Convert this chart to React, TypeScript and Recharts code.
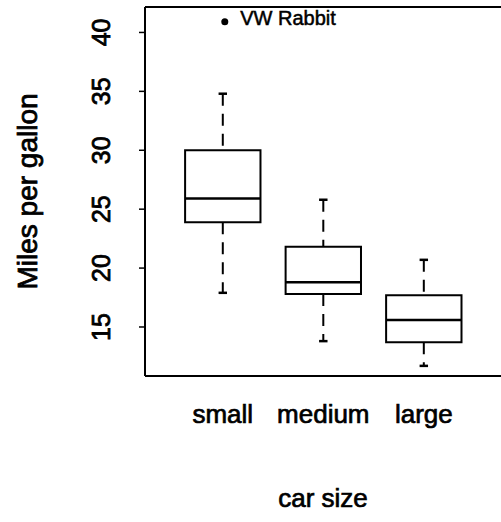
import React from 'react';
import { ComposedChart, XAxis, YAxis, Scatter, ReferenceArea, ReferenceLine, LabelList } from 'recharts';

// ---- data ----
const categories = ['small', 'medium', 'large'];
const positions = [1, 2, 3];
const whiskerLow = [17.9, 13.8, 11.7];
const lowerQuartile = [23.9, 17.8, 13.7];
const medians = [25.9, 18.8, 15.6];
const upperQuartile = [30.0, 21.8, 17.7];
const whiskerHigh = [34.8, 25.8, 20.7];
const outlierPositions = [1];
const outlierValues = [40.9];
const outlierNames = ['VW Rabbit'];
const yTicks = [15, 20, 25, 30, 35, 40];
const xTitle = 'car size';
const yTitle = 'Miles per gallon';

// ---- layout / style ----
const CHART_W = 560;
const X_DOMAIN: [number, number] = [0.226, 4.355];
const Y_DOMAIN: [number, number] = [10.84, 42.16];
const BOX_HALF = 0.375;
const CAP_HALF = 0.042;
const FONT = '"Liberation Sans", Arial, Helvetica, sans-serif';
const INK = '#000';

const outlierData = outlierPositions.map((x, i) => ({ x, y: outlierValues[i], name: outlierNames[i] }));

const YTick = (props: any) => {
  const { x, y, payload } = props;
  const bx = x - 27;
  return (
    <text x={bx} y={y} transform={`rotate(-90, ${bx}, ${y})`} textAnchor="middle" fontSize={25}
      fontFamily={FONT} fill={INK} stroke={INK} strokeWidth={0.8}>{payload.value}</text>
  );
};

const XTick = (props: any) => {
  const { x, y, payload } = props;
  const idx = positions.indexOf(payload.value);
  return (
    <text x={x} y={y + 47} textAnchor="middle" fontSize={26} fontFamily={FONT} fill={INK}
      stroke={INK} strokeWidth={0.7}>{categories[idx]}</text>
  );
};

const YTitle = (props: any) => {
  const vb = props.viewBox || { x: 0, y: 7, width: 145, height: 369 };
  const bx = vb.x + 37;
  const cy = vb.y + vb.height / 2;
  return (
    <text x={bx} y={cy} transform={`rotate(-90, ${bx}, ${cy})`} textAnchor="middle" fontSize={28}
      fontFamily={FONT} fill={INK} stroke={INK} strokeWidth={0.8}>{yTitle}</text>
  );
};

const XTitle = (props: any) => {
  const vb = props.viewBox || { x: 145, y: 376, width: 415, height: 146 };
  return (
    <text x={323} y={vb.y + 131} textAnchor="middle" fontSize={26} fontFamily={FONT} fill={INK}
      stroke={INK} strokeWidth={0.7}>{xTitle}</text>
  );
};

const Dot = (props: any) => <circle cx={props.cx + 2} cy={props.cy} r={3.5} fill={INK} />;

const OutlierLabel = (props: any) => {
  const { x, y, value } = props;
  return (
    <text x={x + 22} y={y + 1} dominantBaseline="central" fontSize={20} fontFamily={FONT} fill={INK}
      stroke={INK} strokeWidth={0.5}>{value}</text>
  );
};

export default function App() {
  return (
    <div style={{ position: 'absolute', left: 0, top: 0, width: 501, height: 522, overflow: 'hidden', background: '#fff' }}>
      <ComposedChart width={CHART_W} height={522} margin={{ top: 7, right: 0, bottom: 0, left: 0 }}>
        <XAxis type="number" dataKey="x" domain={X_DOMAIN} ticks={positions} allowDataOverflow
          axisLine={{ stroke: INK, strokeWidth: 2 }} tickLine={false} tickSize={0} tickMargin={0} height={146}
          tick={<XTick />} label={<XTitle />} interval={0} />
        <YAxis type="number" dataKey="y" domain={Y_DOMAIN} ticks={yTicks} allowDataOverflow width={145}
          axisLine={{ stroke: INK, strokeWidth: 2 }} tickLine={{ stroke: INK, strokeWidth: 1.5 }} tickSize={6} tickMargin={2}
          tick={<YTick />} label={<YTitle />} interval={0} />
        <ReferenceLine y={Y_DOMAIN[1]} stroke={INK} strokeWidth={2} ifOverflow="visible" />
        {positions.map((p, i) => (
          <ReferenceArea key={`box-${i}`} x1={p - BOX_HALF} x2={p + BOX_HALF} y1={lowerQuartile[i]} y2={upperQuartile[i]}
            fill="none" stroke={INK} strokeWidth={2} ifOverflow="visible" />
        ))}
        {positions.map((p, i) => (
          <ReferenceLine key={`med-${i}`} segment={[{ x: p - BOX_HALF, y: medians[i] }, { x: p + BOX_HALF, y: medians[i] }]}
            stroke={INK} strokeWidth={2.5} ifOverflow="visible" />
        ))}
        {positions.map((p, i) => (
          <ReferenceLine key={`wh-${i}`} segment={[{ x: p, y: whiskerHigh[i] }, { x: p, y: upperQuartile[i] }]}
            stroke={INK} strokeWidth={2} strokeDasharray="12 8" ifOverflow="visible" />
        ))}
        {positions.map((p, i) => (
          <ReferenceLine key={`wl-${i}`} segment={[{ x: p, y: lowerQuartile[i] }, { x: p, y: whiskerLow[i] }]}
            stroke={INK} strokeWidth={2} strokeDasharray="12 8" ifOverflow="visible" />
        ))}
        {positions.map((p, i) => (
          <ReferenceLine key={`ch-${i}`} segment={[{ x: p - CAP_HALF, y: whiskerHigh[i] }, { x: p + CAP_HALF, y: whiskerHigh[i] }]}
            stroke={INK} strokeWidth={2.5} ifOverflow="visible" />
        ))}
        {positions.map((p, i) => (
          <ReferenceLine key={`cl-${i}`} segment={[{ x: p - CAP_HALF, y: whiskerLow[i] }, { x: p + CAP_HALF, y: whiskerLow[i] }]}
            stroke={INK} strokeWidth={2.5} ifOverflow="visible" />
        ))}
        <Scatter data={outlierData} dataKey="y" shape={<Dot />} isAnimationActive={false}>
          <LabelList dataKey="name" content={<OutlierLabel />} />
        </Scatter>
      </ComposedChart>
    </div>
  );
}
